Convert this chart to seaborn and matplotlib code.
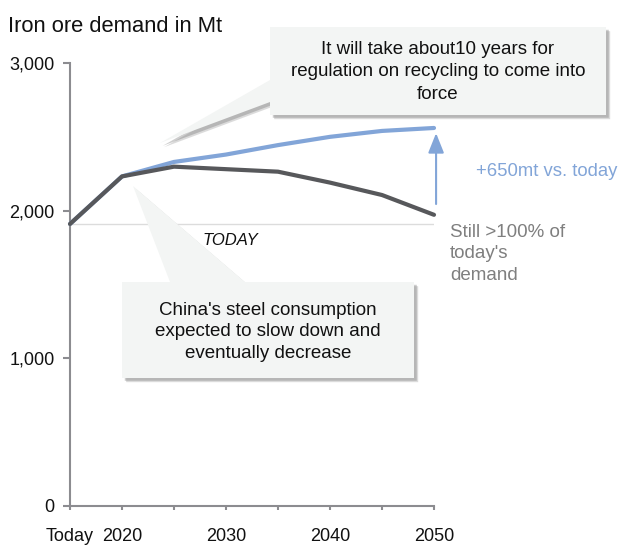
import matplotlib
matplotlib.use("Agg")
import matplotlib.pyplot as plt
import matplotlib.patheffects as pe
from matplotlib.patches import Polygon
import pandas as pd
import seaborn as sns

# Iron ore demand scenarios (Mt)
years = [2015, 2020, 2025, 2030, 2035, 2040, 2045, 2050]
with_recycling_delay = [1910, 2232, 2330, 2380, 2444, 2500, 2540, 2560]
china_slowdown = [1910, 2232, 2298, 2281, 2264, 2190, 2106, 1972]
today_demand = 1910
x_tick_labels = ["Today", "2020", "", "2030", "", "2040", "", "2050"]
y_ticks = [0, 1000, 2000, 3000]
y_tick_labels = ["0", "1,000", "2,000", "3,000"]

BLUE = "#82a5d8"
DARK = "#57585b"
AXIS = "#8c8c90"
BOX = "#f3f5f4"

sns.set_theme(style="white")
plt.rcParams["font.family"] = ["Liberation Sans", "DejaVu Sans"]

W, H = 624, 545
fig = plt.figure(figsize=(W / 100, H / 100), dpi=100)


def px(x, y):
    """Figure fraction from pixel position measured from the top-left."""
    return x / W, 1 - y / H


ax = fig.add_axes([70 / W, (H - 506) / H, 364 / W, 443 / H])

df = pd.DataFrame({
    "year": years * 2,
    "demand": with_recycling_delay + china_slowdown,
    "scenario": ["recycling"] * len(years) + ["china"] * len(years),
})
sns.lineplot(data=df, x="year", y="demand", hue="scenario",
             hue_order=["recycling", "china"], palette=[BLUE, DARK],
             linewidth=3, legend=False, ax=ax, clip_on=False, zorder=4)

ax.axhline(today_demand, color="#dcdcdc", linewidth=1, zorder=1)
ax.text(2030.4, today_demand - 110, "TODAY", style="italic", fontsize=12,
        ha="center", va="center", color="#111111")

ax.set_xlim(2015, 2050)
ax.set_ylim(0, 3000)
ax.set_xticks(years)
ax.set_xticklabels(x_tick_labels)
ax.set_yticks(y_ticks)
ax.set_yticklabels(y_tick_labels)
ax.set_xlabel("")
ax.set_ylabel("")
for side in ["top", "right"]:
    ax.spines[side].set_visible(False)
for side in ["left", "bottom"]:
    ax.spines[side].set_color(AXIS)
    ax.spines[side].set_linewidth(1.5)
ax.tick_params(axis="y", which="both", left=True, length=5, width=1.5,
               color=AXIS, pad=6, labelsize=13, labelcolor="#111111")
ax.tick_params(axis="x", which="both", bottom=True, length=3, width=1.5,
               color=AXIS, pad=13, labelsize=13, labelcolor="#111111")
ax.grid(False)

# Arrow marking the gap between scenarios in 2050
ax.annotate("", xy=(2050.2, 2525), xytext=(2050.2, 2045),
            arrowprops=dict(arrowstyle="-|>,head_length=1.0,head_width=0.4",
                            color=BLUE, linewidth=1.5, shrinkA=0, shrinkB=0),
            annotation_clip=False)

fig.text(*px(476, 172), "+650mt vs. today", color=BLUE, fontsize=13.3,
         ha="left", va="center")
fig.text(*px(450, 254), "Still >100% of\ntoday's\ndemand", color="#7f7f7f",
         fontsize=13.5, ha="left", va="center", linespacing=1.35)

fig.text(*px(8, 27), "Iron ore demand in Mt", fontsize=15.8, ha="left",
         va="center", color="#111111")

shadow = [pe.SimplePatchShadow(offset=(3, -3), shadow_rgbFace="0.45", alpha=0.25),
          pe.SimplePatchShadow(offset=(2, -2), shadow_rgbFace="0.45", alpha=0.35),
          pe.Normal()]

top_callout = [(270, 27), (606, 27), (606, 115), (270, 115), (270, 102),
               (160, 143), (270, 80)]
fig.patches.append(Polygon([px(x, y) for x, y in top_callout], closed=True,
                           transform=fig.transFigure, facecolor=BOX,
                           edgecolor="none", zorder=5, path_effects=shadow))
fig.text(*px(438, 72),
         "It will take about10 years for\nregulation on recycling to come into\nforce",
         fontsize=13.5, ha="center", va="center", linespacing=1.4,
         color="#111111", zorder=6)

bottom_callout = [(122, 282), (170, 282), (133, 186), (245, 282), (414, 282),
                  (414, 378), (122, 378)]
fig.patches.append(Polygon([px(x, y) for x, y in bottom_callout], closed=True,
                           transform=fig.transFigure, facecolor=BOX,
                           edgecolor="none", zorder=5, path_effects=shadow))
fig.text(*px(268, 332),
         "China's steel consumption\nexpected to slow down and\neventually decrease",
         fontsize=13.5, ha="center", va="center", linespacing=1.35,
         color="#111111", zorder=6)

fig.savefig("out.png", dpi=100, facecolor="white")
